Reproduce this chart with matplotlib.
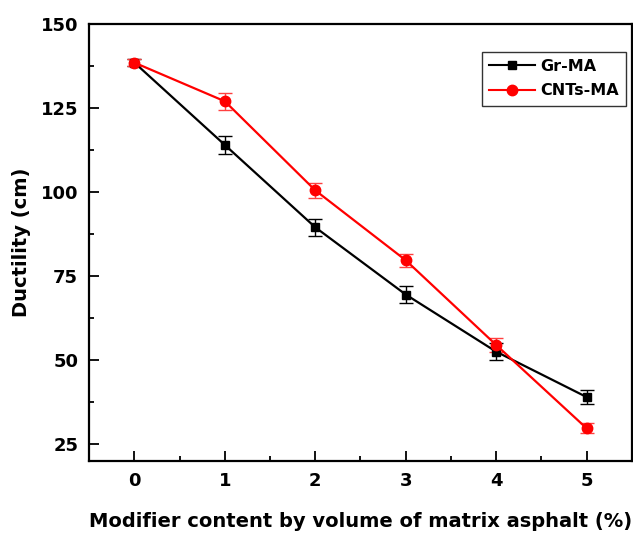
import numpy as np
import matplotlib.pyplot as plt
from matplotlib.lines import Line2D
from matplotlib.ticker import MultipleLocator

plt.rcParams['font.family'] = ['DejaVu Sans']
plt.rcParams['font.weight'] = 'bold'

# содержание модификатора, %
content = [0, 1, 2, 3, 4, 5]

gr_ma = [138.5, 114.0, 89.5, 69.5, 52.5, 39.0]
gr_ma_err = [1.0, 2.7, 2.5, 2.5, 2.5, 2.0]

cnts_ma = [138.5, 127.0, 100.5, 79.7, 54.5, 29.7]
cnts_ma_err = [1.0, 2.5, 2.3, 2.0, 2.0, 1.5]

fig, ax = plt.subplots(figsize=(6.33, 5.34), dpi=100)
fig.subplots_adjust(left=0.141, right=0.998, top=0.955, bottom=0.137)

ax.errorbar(content, gr_ma, yerr=gr_ma_err, color='black', marker='s',
            markersize=6, linewidth=1.6, capsize=5, elinewidth=1.0,
            capthick=1.0)
ax.errorbar(content, cnts_ma, yerr=cnts_ma_err, color='red', marker='o',
            markersize=7.5, linewidth=1.6, capsize=5, elinewidth=1.0,
            capthick=1.0, ecolor='#ff4040')

ax.set_xlim(-0.5, 5.5)
ax.set_ylim(20, 150)
ax.set_xticks(content)
ax.set_yticks([25, 50, 75, 100, 125, 150])
ax.xaxis.set_minor_locator(MultipleLocator(0.5))
ax.yaxis.set_minor_locator(MultipleLocator(12.5))
ax.tick_params(which='both', direction='in', top=False, right=False,
               labelsize=13, width=1.3)
ax.tick_params(which='major', length=7, pad=8)
ax.tick_params(which='minor', length=3.5)
for sp in ax.spines.values():
    sp.set_linewidth(1.6)

ax.set_xlabel('Modifier content by volume of matrix asphalt (%)',
              fontsize=14, fontweight='bold', labelpad=16)
ax.set_ylabel('Ductility (cm)', fontsize=14, fontweight='bold', labelpad=7)

# легенда без планок погрешностей
handles = [
    Line2D([], [], color='black', marker='s', markersize=6, linewidth=1.5),
    Line2D([], [], color='red', marker='o', markersize=7.5, linewidth=1.5),
]
leg = ax.legend(handles, ['Gr-MA', 'CNTs-MA'], loc='upper right',
                bbox_to_anchor=(0.9895, 0.937), fontsize=11.5,
                frameon=True, fancybox=False, edgecolor='black',
                handlelength=2.9, handletextpad=0.3, borderpad=0.45,
                labelspacing=0.6, borderaxespad=0)
leg.get_frame().set_linewidth(1.0)

fig.savefig('out.png', dpi=100)
